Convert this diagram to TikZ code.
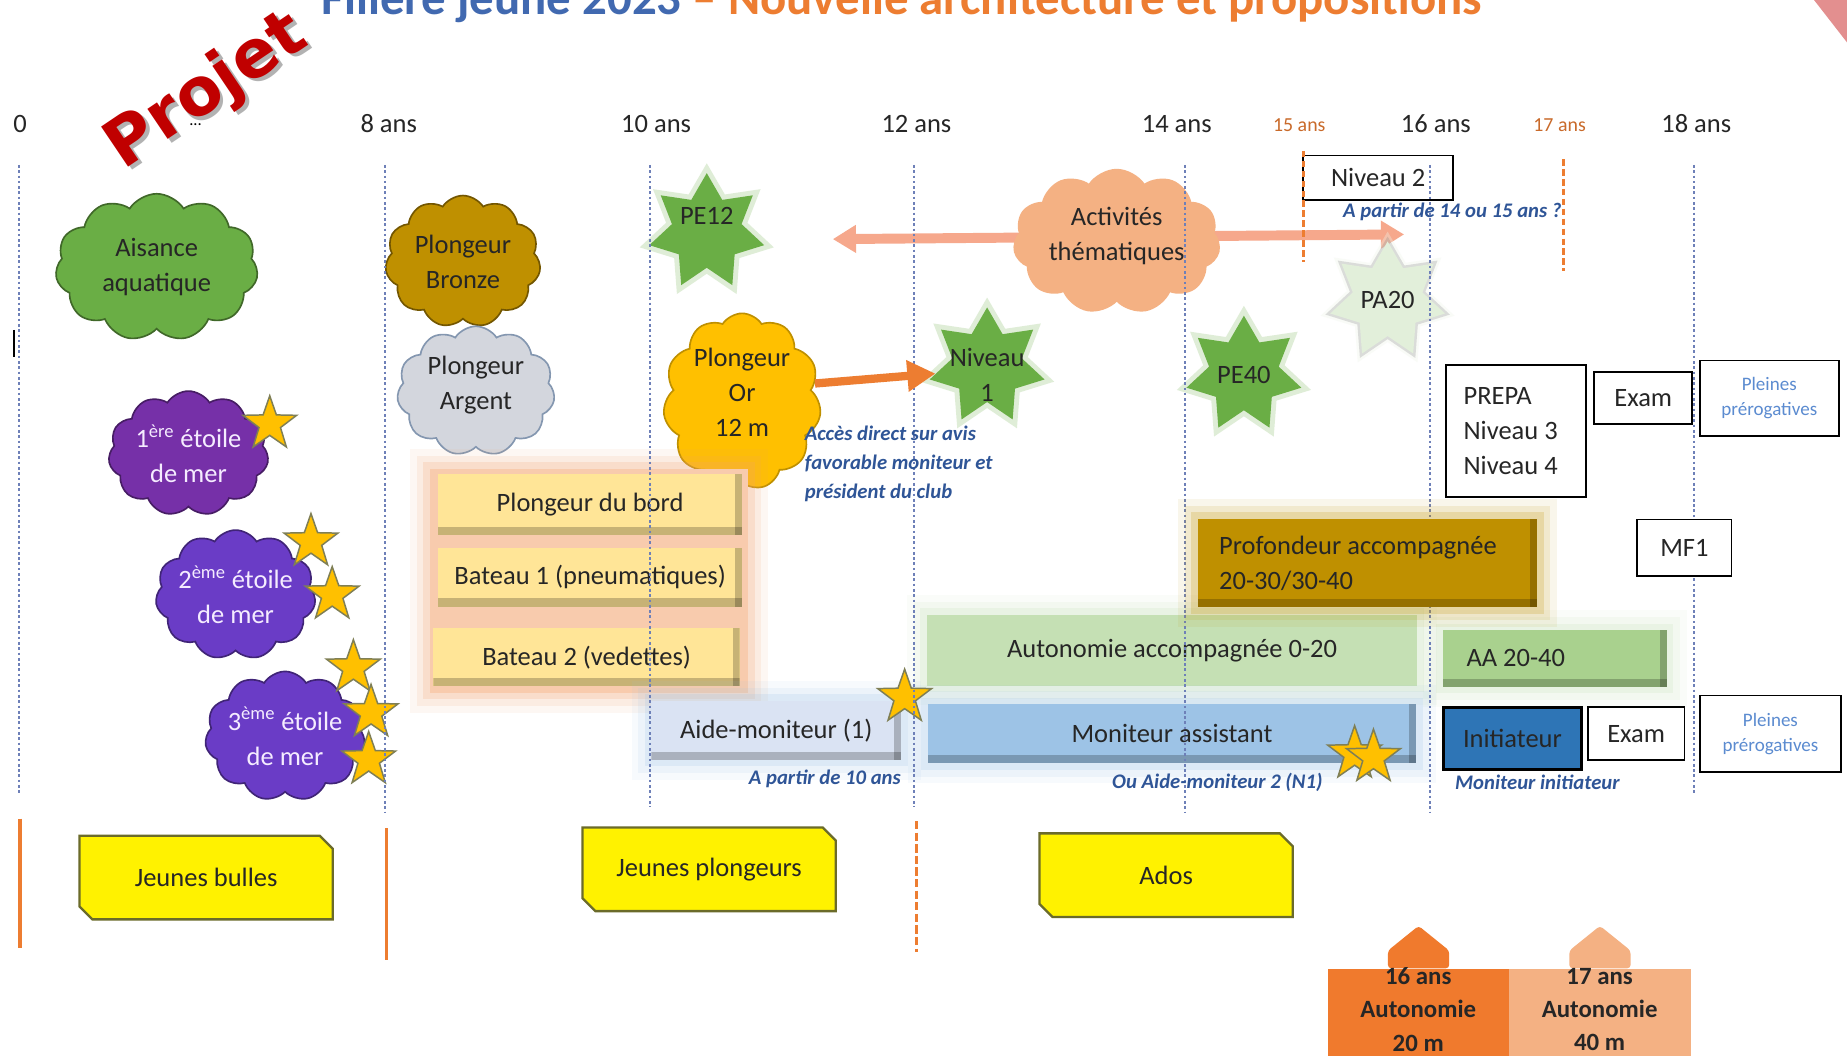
\documentclass[tikz,border=0pt]{standalone}
\usepackage{fontspec}
\setmainfont{Carlito}
\newfontfamily\projetfont{DejaVu Sans}
\usepackage{xcolor}
\usetikzlibrary{shapes.symbols,shapes.geometric,shapes.misc,arrows.meta,positioning,calc}
\newlength{\pxu}
\setlength{\pxu}{0.025cm}

\definecolor{vgreen}{HTML}{6AAE45}
\definecolor{vgold}{HTML}{BF9000}
\definecolor{vsilver}{HTML}{D3D6DD}
\definecolor{vsilverline}{HTML}{8497B0}
\definecolor{vpurple}{HTML}{7630A8}
\definecolor{vviolet}{HTML}{6A3CC6}
\definecolor{vlav}{HTML}{F5ECFF}
\definecolor{vyolk}{HTML}{FFC000}
\definecolor{vstarline}{HTML}{7F7F55}
\definecolor{vorange}{HTML}{ED7D31}
\definecolor{vorangedk}{HTML}{F07A2D}
\definecolor{vpeach}{HTML}{F4B183}
\definecolor{vpeachline}{HTML}{F6A88C}
\definecolor{vpeachbg}{HTML}{F8CBAD}
\definecolor{vcream}{HTML}{FFE597}
\definecolor{vgreenlt}{HTML}{C5E0B4}
\definecolor{vgreenmd}{HTML}{A9D18E}
\definecolor{vbluelt}{HTML}{DAE3F3}
\definecolor{vbluemd}{HTML}{9DC3E6}
\definecolor{vinit}{HTML}{2E75B6}
\definecolor{vpale}{HTML}{E2EFDA}
\definecolor{vnote}{HTML}{2F5597}
\definecolor{vpp}{HTML}{5B8BD0}
\definecolor{vgrid}{HTML}{6E80B8}
\definecolor{vtitleblue}{HTML}{4169B0}
\definecolor{vprojet}{HTML}{C00000}
\definecolor{vbox}{HTML}{6B6B2A}

\tikzset{
	txt/.style={font=\fontsize{16}{21}\selectfont, text=black!85},
	agelabel/.style={font=\fontsize{16}{19}\selectfont, text=black!85},
	agelabelorange/.style={font=\fontsize{12}{14}\selectfont, text=vorange!85!black},
	gridline/.style={vgrid, line width=0.9pt, dash pattern=on 1.6pt off 1.6pt},
	ageline/.style={vorange, line width=2.2pt},
	cloudbox/.style={cloud, cloud puffs=11, cloud puff arc=115, cloud ignores aspect, fill=#1, draw=#1!60!black, line width=1pt, inner sep=0pt},
	cloudlabel/.style={txt, align=center, inner sep=0pt},
	bigstar/.style={star, star points=7, star point ratio=1.65, fill=#1, draw=none, inner sep=0pt, minimum size=100\pxu, preaction={draw=#1!60, line width=6pt, opacity=.35}},
	smallstar/.style={star, star points=5, star point ratio=2.5, fill=vyolk, draw=vstarline, line width=0.9pt, inner sep=0pt, minimum size=48\pxu},
	glow/.style={preaction={draw=#1, line width=24pt, opacity=.08}, preaction={draw=#1, line width=16pt, opacity=.12}, preaction={draw=#1, line width=8pt, opacity=.2}},
	bevel/.style={path picture={
		\fill[black, opacity=.22] ([yshift=7\pxu]path picture bounding box.south west) rectangle (path picture bounding box.south east);
		\fill[black, opacity=.22] ([xshift=-6\pxu]path picture bounding box.north east) rectangle (path picture bounding box.south east);}},
	panel/.style={rectangle, fill=#1, inner sep=0pt, txt},
	plainbox/.style={rectangle, draw=black, line width=1.1pt, fill=white, inner sep=0pt, txt},
	ppbox/.style={plainbox, align=center, font=\fontsize{11.5}{15.5}\selectfont, text=vpp},
	agebox/.style={chamfered rectangle, chamfered rectangle corners={north east,south west}, chamfered rectangle xsep=4\pxu, chamfered rectangle ysep=7\pxu, fill=yellow, draw=vbox, line width=1.4pt, minimum width=215\pxu, minimum height=71\pxu, inner sep=0pt, txt},
	notetext/.style={font=\fontsize{12.5}{17.5}\selectfont\bfseries\itshape, text=vnote, inner sep=0pt},
	autobox/.style={rectangle, fill=#1, draw=none, anchor=north west, minimum width=154\pxu, minimum height=100\pxu, inner sep=0pt},
	autotext/.style={align=center, font=\fontsize{15}{20}\selectfont\bfseries, text=black!85, inner sep=0pt},
}

\begin{document}
\begin{tikzpicture}[x=0.025cm, y=-0.025cm]
	\useasboundingbox (0,0) rectangle (1568,896);
	\clip (0,0) rectangle (1568,896);
	\fill[white] (0,0) rectangle (1568,896); %背景

	\node[anchor=base west, inner sep=0pt, font=\fontsize{29.5}{30}\selectfont\bfseries] (title) at (273,12) {\textcolor{vtitleblue}{Filière jeune 2023} \textcolor{vorange}{– Nouvelle architecture et propositions}}; %标题
	\fill[vprojet!55, opacity=.8] (1540,0) -- (1568,0) -- (1568,36) -- cycle; %右上角
	\node[rotate=34, font=\projetfont\bfseries\fontsize{40}{44}\selectfont, text=black, opacity=.3] (projetshadow) at (179,81) {Projet}; %阴影
	\node[rotate=34, font=\projetfont\bfseries\fontsize{40}{44}\selectfont, text=vprojet] (projet) at (176,78) {Projet};

	\foreach \x/\t in {17/0, 330/8 ans, 557/10 ans, 778/12 ans, 999/14 ans, 1219/16 ans, 1440/18 ans}
		\node[agelabel] (age\x) at (\x,105) {\t}; %年龄刻度
	\node[agelabelorange] (age15) at (1103,106) {15 ans};
	\node[agelabelorange] (age17) at (1324,106) {17 ans};
	\node[font=\fontsize{10}{12}\selectfont] (dots) at (166,106) {...};
	\draw[line width=1pt] (12,280) -- (12,303);

	\coordinate (themL) at (707,203);
	\coordinate (themR) at (1192,199);
	\draw[vpeachline, line width=6pt, {Triangle[length=14pt,width=16pt]}-{Triangle[length=14pt,width=16pt]}] (themL) -- (themR); %双向箭头

	\node[cloudbox=vgreen, minimum width=172\pxu, minimum height=125\pxu, label={[cloudlabel]center:{Aisance\\aquatique}}] (aisance) at (133,227) {};
	\node[cloudbox=vgold, minimum width=132\pxu, minimum height=112\pxu, label={[cloudlabel]center:{Plongeur\\Bronze}}] (bronze) at (393,222) {};
	\node[cloudbox=vsilver, draw=vsilverline, minimum width=134\pxu, minimum height=110\pxu, label={[cloudlabel, yshift=5\pxu]center:{Plongeur\\Argent}}] (argent) at (404,332) {};
	\node[cloudbox=vpurple, minimum width=136\pxu, minimum height=106\pxu, label={[cloudlabel, text=vlav]center:{1\textsuperscript{ère} étoile\\de mer}}] (etoile1) at (160,385) {};
	\node[cloudbox=vviolet, minimum width=136\pxu, minimum height=110\pxu, label={[cloudlabel, text=vlav]center:{2\textsuperscript{ème} étoile\\de mer}}] (etoile2) at (200,505) {};
	\node[cloudbox=vviolet, minimum width=136\pxu, minimum height=110\pxu, label={[cloudlabel, text=vlav]center:{3\textsuperscript{ème} étoile\\de mer}}] (etoile3) at (242,625) {};
	\node[cloudbox=vyolk, draw=vgold, minimum width=134\pxu, minimum height=150\pxu, label={[cloudlabel, yshift=8\pxu]center:{Plongeur\\Or\\12 m}}] (orcloud) at (630,341) {};
	\node[cloudbox=vpeach, draw=vpeach, minimum width=175\pxu, minimum height=122\pxu, label={[cloudlabel, yshift=5\pxu]center:{Activités\\thématiques}}] (themes) at (948,205) {};

	\node[panel=vpeachbg, glow=vorange!70, minimum width=270\pxu, minimum height=190\pxu] (bateaubg) at (500,493) {}; %橙色光晕
	\node[panel=vcream, bevel, minimum width=258\pxu, minimum height=52\pxu] (bord) at (501,428) {Plongeur du bord};
	\node[panel=vcream, bevel, minimum width=258\pxu, minimum height=50\pxu] (bateau1) at (501,490) {Bateau 1 (pneumatiques)};
	\node[panel=vcream, bevel, minimum width=260\pxu, minimum height=49\pxu] (bateau2) at (498,558) {Bateau 2 (vedettes)};

	\node[panel=vgreenlt, glow=vgreenlt, minimum width=416\pxu, minimum height=60\pxu] (autonomie) at (995,552) {Autonomie accompagnée 0-20};
	\node[panel=vgreenmd, glow=vgreenlt, bevel, minimum width=190\pxu, minimum height=48\pxu, text width=150\pxu, align=flush left] (aa) at (1320,559) {AA 20-40};
	\node[panel=vbluelt, glow=vbluemd, bevel, minimum width=212\pxu, minimum height=50\pxu] (aidemon) at (659,620) {Aide-moniteur (1)};
	\node[panel=vbluemd, glow=vbluemd, bevel, minimum width=415\pxu, minimum height=50\pxu] (assistant) at (995,623) {Moniteur assistant};

	\node[bigstar=vgreen, label={[txt, yshift=14\pxu]center:PE12}] (pe12) at (600,197) {};
	\node[bigstar=vgreen, label={[txt, align=center, yshift=-7\pxu]center:{Niveau\\1}}] (n1) at (838,311) {};
	\node[bigstar=vgreen, label={[txt]center:PE40}] (pe40) at (1056,318) {};
	\node[bigstar=vpale, preaction={draw=gray, line width=3pt, opacity=.25}, label={[txt]center:PA20}] (pa20) at (1178,255) {};

	\node[plainbox, minimum width=127\pxu, minimum height=38\pxu] (niveau2) at (1170,151) {Niveau 2};
	\node[plainbox, minimum width=119\pxu, minimum height=112\pxu, text width=89\pxu, align=flush left] (prepa) at (1287,366) {PREPA\\Niveau 3\\Niveau 4};
	\node[plainbox, minimum width=83\pxu, minimum height=44\pxu] (exam1) at (1395,338) {Exam};
	\node[ppbox, minimum width=118\pxu, minimum height=64\pxu] (plein1) at (1502,338) {Pleines\\prérogatives};
	\node[plainbox, fill=vinit, line width=1.6pt, minimum width=117\pxu, minimum height=53\pxu] (initiateur) at (1284,627) {Initiateur};
	\node[plainbox, minimum width=82\pxu, minimum height=45\pxu] (exam2) at (1389,623) {Exam};
	\node[ppbox, minimum width=120\pxu, minimum height=65\pxu] (plein2) at (1503,623) {Pleines\\prérogatives};

	\node[agebox] (bulles) at (175,745) {Jeunes bulles}; %年龄段
	\node[agebox] (jplong) at (602,738) {Jeunes plongeurs};
	\node[agebox] (ados) at (990,743) {Ados};

	\node[autobox=vorangedk] (a16) at (1127,822) {};
	\node[autobox=vpeach] (a17) at (1281,822) {};
	\fill[vorangedk, rounded corners=2pt] ($(a16.north)+(-26,0)$) -- ($(a16.north)+(-26,-15)$) -- ($(a16.north)+(0,-36)$) -- ($(a16.north)+(26,-15)$) -- ($(a16.north)+(26,0)$) -- cycle;
	\fill[vpeach, rounded corners=2pt] ($(a17.north)+(-26,0)$) -- ($(a17.north)+(-26,-15)$) -- ($(a17.north)+(0,-36)$) -- ($(a17.north)+(26,-15)$) -- ($(a17.north)+(26,0)$) -- cycle;
	\node[autotext] (a16t) at (1204,857) {16 ans\\Autonomie\\20 m};
	\node[autotext] (a17t) at (1358,857) {17 ans\\Autonomie\\40 m};

	\foreach \n/\x/\y in {s1/229/360, s2/264/460, s3/282/505, s4/300/567, s5/315/605, s6/313/645, s7/768/592, s8/1150/640, s9/1166/643}
		\node[smallstar] (\n) at (\x,\y) {}; %小星星

	\foreach \x/\a/\b in {16/140/675, 327/140/690, 552/140/685, 776/140/685, 1006/140/690, 1214/140/690, 1438/140/675}
		\draw[gridline] (\x,\a) -- (\x,\b); %点状虚线
	\draw[ageline, line width=1.8pt, dash pattern=on 4pt off 2pt] (1107,128) -- (1107,222);
	\draw[ageline, line width=1.8pt, dash pattern=on 4pt off 2pt] (1327,135) -- (1327,230);
	\draw[ageline] (17,695) -- (17,805); %实线
	\draw[ageline] (328,703) -- (328,815);
	\draw[ageline, dash pattern=on 5pt off 2pt] (778,697) -- (778,808); %线状虚线

	\draw[vorange, line width=5pt, -{Triangle[length=17pt,width=18pt]}] (orcloud.14) -- (n1.188); %橙色箭头

	\node[panel=vgold, glow=vgold, bevel, minimum width=288\pxu, minimum height=75\pxu, text width=252\pxu, align=flush left] (profondeur) at (1161,478) {Profondeur accompagnée\\20-30/30-40};
	\node[plainbox, minimum width=80\pxu, minimum height=48\pxu] (mf1) at (1430,465) {MF1};

	\node[notetext, anchor=north west, align=left] (accesnote) at (683,361) {Accès direct sur avis\\favorable moniteur et\\président du club};
	\node[notetext, anchor=west] (niv2note) at (1140,180) {A partir de 14 ou 15 ans ?};
	\node[notetext, anchor=east] (aidenote) at (765,661) {A partir de 10 ans};
	\node[notetext, anchor=east] (assistnote) at (1123,664) {Ou Aide-moniteur 2 (N1)};
	\node[notetext, anchor=west] (initnote) at (1235,664) {Moniteur initiateur};
\end{tikzpicture}
\end{document}
